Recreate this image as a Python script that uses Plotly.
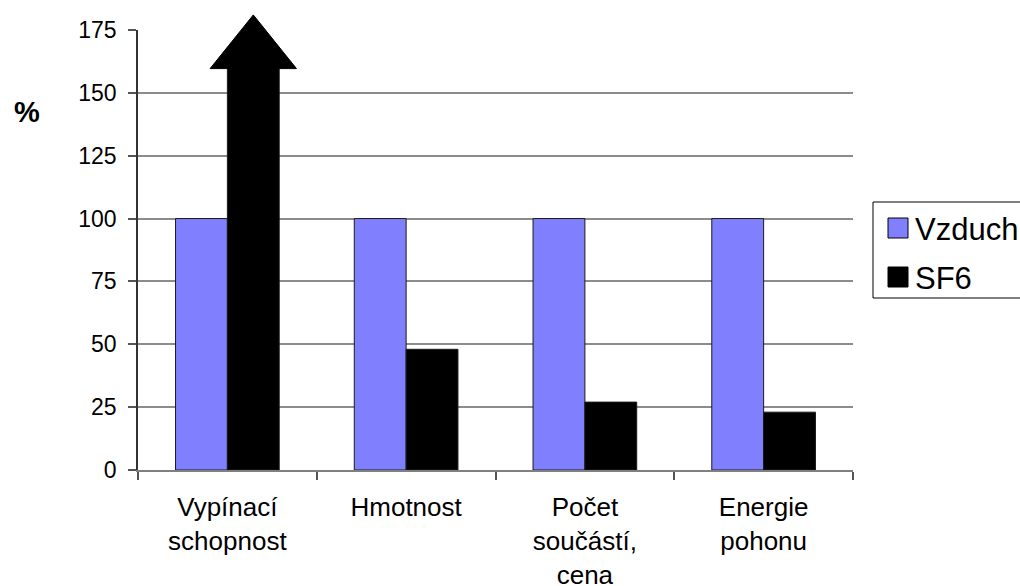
import plotly.graph_objects as go

# Categories and series (percent, air breaker = 100 %)
categories = ["Vypínací<br>schopnost", "Hmotnost", "Počet<br>součástí,<br>cena", "Energie<br>pohonu"]
series_names = ["Vzduch", "SF6"]
vzduch = [100, 100, 100, 100]
sf6 = [160, 48, 27, 23]
off_scale = [True, False, False, False]   # SF6 breaking capacity runs off the chart
y_ticks = [0, 25, 50, 75, 100, 125, 150, 175]

colors = ["#8080FF", "#000000"]
W, H = 1020, 586
M = dict(l=138, r=167, t=30, b=116)
Y_MAX = 175
BARGAP = 0.42
FONT = "Liberation Sans, Arial, sans-serif"

fig = go.Figure()
for name, vals, col in zip(series_names, [vzduch, sf6], colors):
    fig.add_trace(go.Bar(
        x=categories, y=vals, name=name,
        marker=dict(color=col, line=dict(color="#1a1a1a", width=1)),
        showlegend=False,
    ))

plot_w = W - M["l"] - M["r"]
plot_h = H - M["t"] - M["b"]
n = len(categories)


def xp(v):
    """category-axis value -> paper x"""
    return (v + 0.5) / n


def yp(v):
    """data y -> paper y"""
    return v / Y_MAX


def px_x(p):
    return (p - M["l"]) / plot_w


def px_y(p):
    return (H - M["b"] - p) / plot_h


shapes = []
# arrow heads for off-scale bars
bar_w = (1 - BARGAP) / 2
head_h = 21
for i, (v, flag) in enumerate(zip(sf6, off_scale)):
    if not flag:
        continue
    left = i - bar_w / 3
    right = i + bar_w * 4 / 3
    tip = i + bar_w / 2
    path = (f"M{xp(left)},{yp(v) - 0.002} L{xp(tip)},{yp(v + head_h)} "
            f"L{xp(right)},{yp(v) - 0.002} Z")
    shapes.append(dict(type="path", xref="paper", yref="paper", path=path,
                       fillcolor="#000000", line=dict(color="#000000", width=1),
                       layer="above"))

# legend box
lx0, lx1, ly0, ly1 = 873, 1030, 202, 298
shapes.append(dict(type="rect", xref="paper", yref="paper",
                   x0=px_x(lx0), x1=px_x(lx1), y0=px_y(ly1), y1=px_y(ly0),
                   line=dict(color="#000000", width=1), fillcolor="rgba(0,0,0,0)"))
annotations = []
for k, (name, col) in enumerate(zip(series_names, colors)):
    cy = 228 + k * 49
    shapes.append(dict(type="rect", xref="paper", yref="paper",
                       x0=px_x(888), x1=px_x(908), y0=px_y(cy + 10), y1=px_y(cy - 10),
                       fillcolor=col, line=dict(color="#000000", width=1)))
    annotations.append(dict(text=name, xref="paper", yref="paper",
                            x=px_x(913), y=px_y(cy + 1), xanchor="left", yanchor="middle",
                            showarrow=False, font=dict(size=31, color="#000000", family=FONT)))

annotations.append(dict(text="<b>%</b>", xref="paper", yref="paper",
                        x=px_x(27), y=px_y(112), xanchor="center", yanchor="middle",
                        showarrow=False, font=dict(size=29, color="#000000", family=FONT)))

fig.update_layout(
    width=W, height=H,
    margin=M,
    paper_bgcolor="white", plot_bgcolor="white",
    barmode="group", bargap=BARGAP, bargroupgap=0,
    font=dict(family=FONT, color="#000000"),
    shapes=shapes, annotations=annotations,
    showlegend=False,
    xaxis=dict(
        type="category", range=[-0.5, n - 0.5], automargin=False,
        showline=True, linecolor="#808080", linewidth=1.5,
        ticks="outside", tickson="boundaries", ticklen=8, tickcolor="#555555", tickwidth=1.5,
        tickfont=dict(size=26, family=FONT, color="#000000"),
        ticklabelstandoff=13,
        showgrid=False,
    ),
    yaxis=dict(
        range=[0, Y_MAX], tickvals=y_ticks, automargin=False,
        showline=True, linecolor="#333333", linewidth=1.5,
        ticks="outside", ticklen=8, tickcolor="#555555", tickwidth=1.5,
        tickfont=dict(size=23, family=FONT, color="#000000"),
        ticklabelstandoff=7,
        showgrid=True, gridcolor="#8c8c8c", gridwidth=1.5,
        zeroline=False,
    ),
)

fig.write_html("out.html")
